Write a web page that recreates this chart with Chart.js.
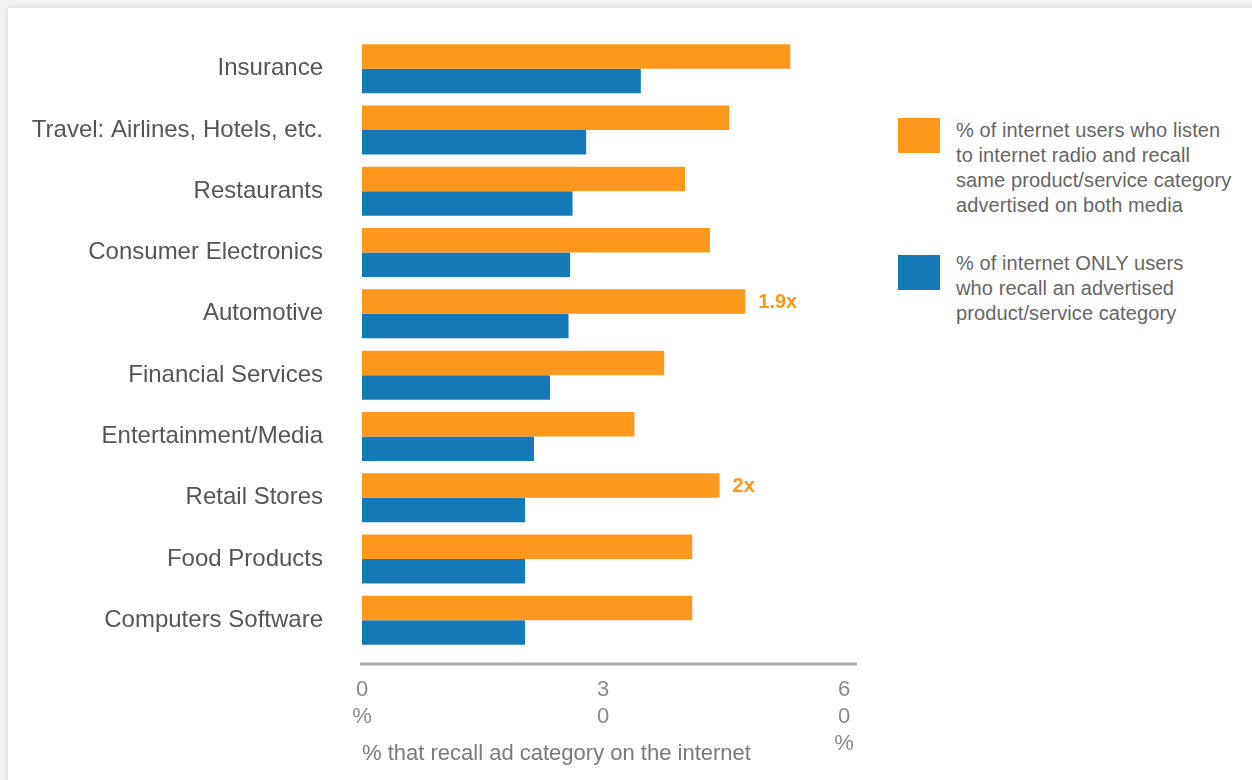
<!DOCTYPE html>
<html>
<head>
<meta charset="utf-8">
<script src="https://cdn.jsdelivr.net/npm/chart.js@4/dist/chart.umd.min.js"></script>
<style>
  html, body { margin: 0; padding: 0; width: 1252px; height: 780px; overflow: hidden; background: #f2f2f2; }
  #card { position: absolute; left: 8px; top: 8px; width: 1300px; height: 820px; background: #fff;
          box-shadow: 0 0 7px rgba(0,0,0,0.13); }
  #wrap { position: absolute; left: 0; top: 0; width: 880px; height: 780px; }
  #legend { position: absolute; left: 898px; top: 118px; font-family: "Liberation Sans", Arial, sans-serif;
            font-size: 20px; line-height: 25px; color: #666; letter-spacing: 0.1px; }
  .item { position: relative; padding-left: 58px; }
  .item .box { position: absolute; left: 0; top: 0; width: 42px; height: 35px; }
  .item + .item { margin-top: 37px; }
  .item .txt { position: relative; top: 0; }
  .item + .item .txt { top: -4px; }
</style>
</head>
<body>
<div id="card"></div>
<div id="wrap"><canvas id="c" width="880" height="780"></canvas></div>
<div id="legend"></div>
<script>
// ---- data ----
const categories = ["Insurance", "Travel: Airlines, Hotels, etc.", "Restaurants", "Consumer Electronics",
  "Automotive", "Financial Services", "Entertainment/Media", "Retail Stores", "Food Products", "Computers Software"];
const radioAndInternet = [53.3, 45.7, 40.2, 43.3, 47.7, 37.6, 33.9, 44.5, 41.1, 41.1];
const internetOnly     = [34.7, 27.9, 26.2, 25.9, 25.7, 23.4, 21.4, 20.3, 20.3, 20.3];
const seriesNames = [
  ["% of internet users who listen", "to internet radio and recall", "same product/service category", "advertised on both media"],
  ["% of internet ONLY users", "who recall an advertised", "product/service category"]
];
const tickValues = [0, 30, 60];
const tickLabels = [["0", "%"], ["3", "0"], ["6", "0", "%"]];
const axisTitle = "% that recall ad category on the internet";
const annotationCategories = ["Automotive", "Retail Stores"];
const annotationTexts = ["1.9x", "2x"];

const ORANGE = "#FD981C";
const BLUE = "#1479B6";
const FONT = "'Liberation Sans', Arial, sans-serif";

// legend (HTML, real text)
const legendEl = document.getElementById("legend");
[ORANGE, BLUE].forEach((col, i) => {
  const d = document.createElement("div");
  d.className = "item";
  d.innerHTML = '<div class="box" style="background:' + col + '"></div><div class="txt">' +
    seriesNames[i].join("<br>") + '</div>';
  legendEl.appendChild(d);
});

const axisLinePlugin = {
  id: "axisLine",
  afterDraw(chart) {
    const ctx = chart.ctx, x = chart.scales.x, a = chart.chartArea;
    ctx.save();
    ctx.strokeStyle = "#a9a9a9";
    ctx.lineWidth = 3;
    ctx.beginPath();
    ctx.moveTo(x.getPixelForValue(0) - 2, a.bottom + 13);
    ctx.lineTo(x.getPixelForValue(x.max), a.bottom + 13);
    ctx.stroke();
    ctx.restore();
  }
};

const annotationPlugin = {
  id: "ratioLabels",
  afterDatasetsDraw(chart) {
    const ctx = chart.ctx;
    const meta = chart.getDatasetMeta(0);
    ctx.save();
    ctx.font = "bold 20px " + FONT;
    ctx.fillStyle = ORANGE;
    ctx.textBaseline = "middle";
    ctx.textAlign = "left";
    annotationCategories.forEach((cat, i) => {
      const idx = categories.indexOf(cat);
      const bar = meta.data[idx];
      ctx.fillText(annotationTexts[i], bar.x + 13, bar.y + 1);
    });
    ctx.restore();
  }
};

new Chart(document.getElementById("c"), {
  type: "bar",
  data: {
    labels: categories,
    datasets: [
      { label: seriesNames[0].join(" "), data: radioAndInternet, backgroundColor: ORANGE },
      { label: seriesNames[1].join(" "), data: internetOnly, backgroundColor: BLUE }
    ]
  },
  options: {
    indexAxis: "y",
    responsive: false,
    animation: false,
    layout: { padding: { top: 38, right: 23, left: 0, bottom: 0 } },
    datasets: { bar: { categoryPercentage: 0.8, barPercentage: 1.0 } },
    plugins: { legend: { display: false }, tooltip: { enabled: false } },
    scales: {
      x: {
        type: "linear",
        min: 0,
        max: 61.6,
        afterBuildTicks(scale) { scale.ticks = tickValues.map(v => ({ value: v })); },
        afterFit(scale) { scale.height = 129; },
        grid: { display: false, drawTicks: false },
        border: { display: false },
        ticks: {
          padding: 25.5,
          maxRotation: 0,
          autoSkip: false,
          color: "#8a8a8a",
          font: { family: FONT, size: 22, lineHeight: 1.23 },
          callback: (v) => tickLabels[tickValues.indexOf(v)]
        },
        title: {
          display: true,
          text: axisTitle,
          align: "start",
          color: "#7a7a7a",
          font: { family: FONT, size: 22, lineHeight: 1.2 },
          padding: { top: 0, bottom: 13 }
        }
      },
      y: {
        afterFit(scale) { scale.width = 362; scale.paddingTop = 0; scale.paddingBottom = 0; },
        grid: { display: false, drawTicks: false },
        border: { display: false },
        ticks: {
          padding: 39,
          color: "#555",
          font: { family: FONT, size: 24 }
        }
      }
    }
  },
  plugins: [axisLinePlugin, annotationPlugin]
});
</script>
</body>
</html>
